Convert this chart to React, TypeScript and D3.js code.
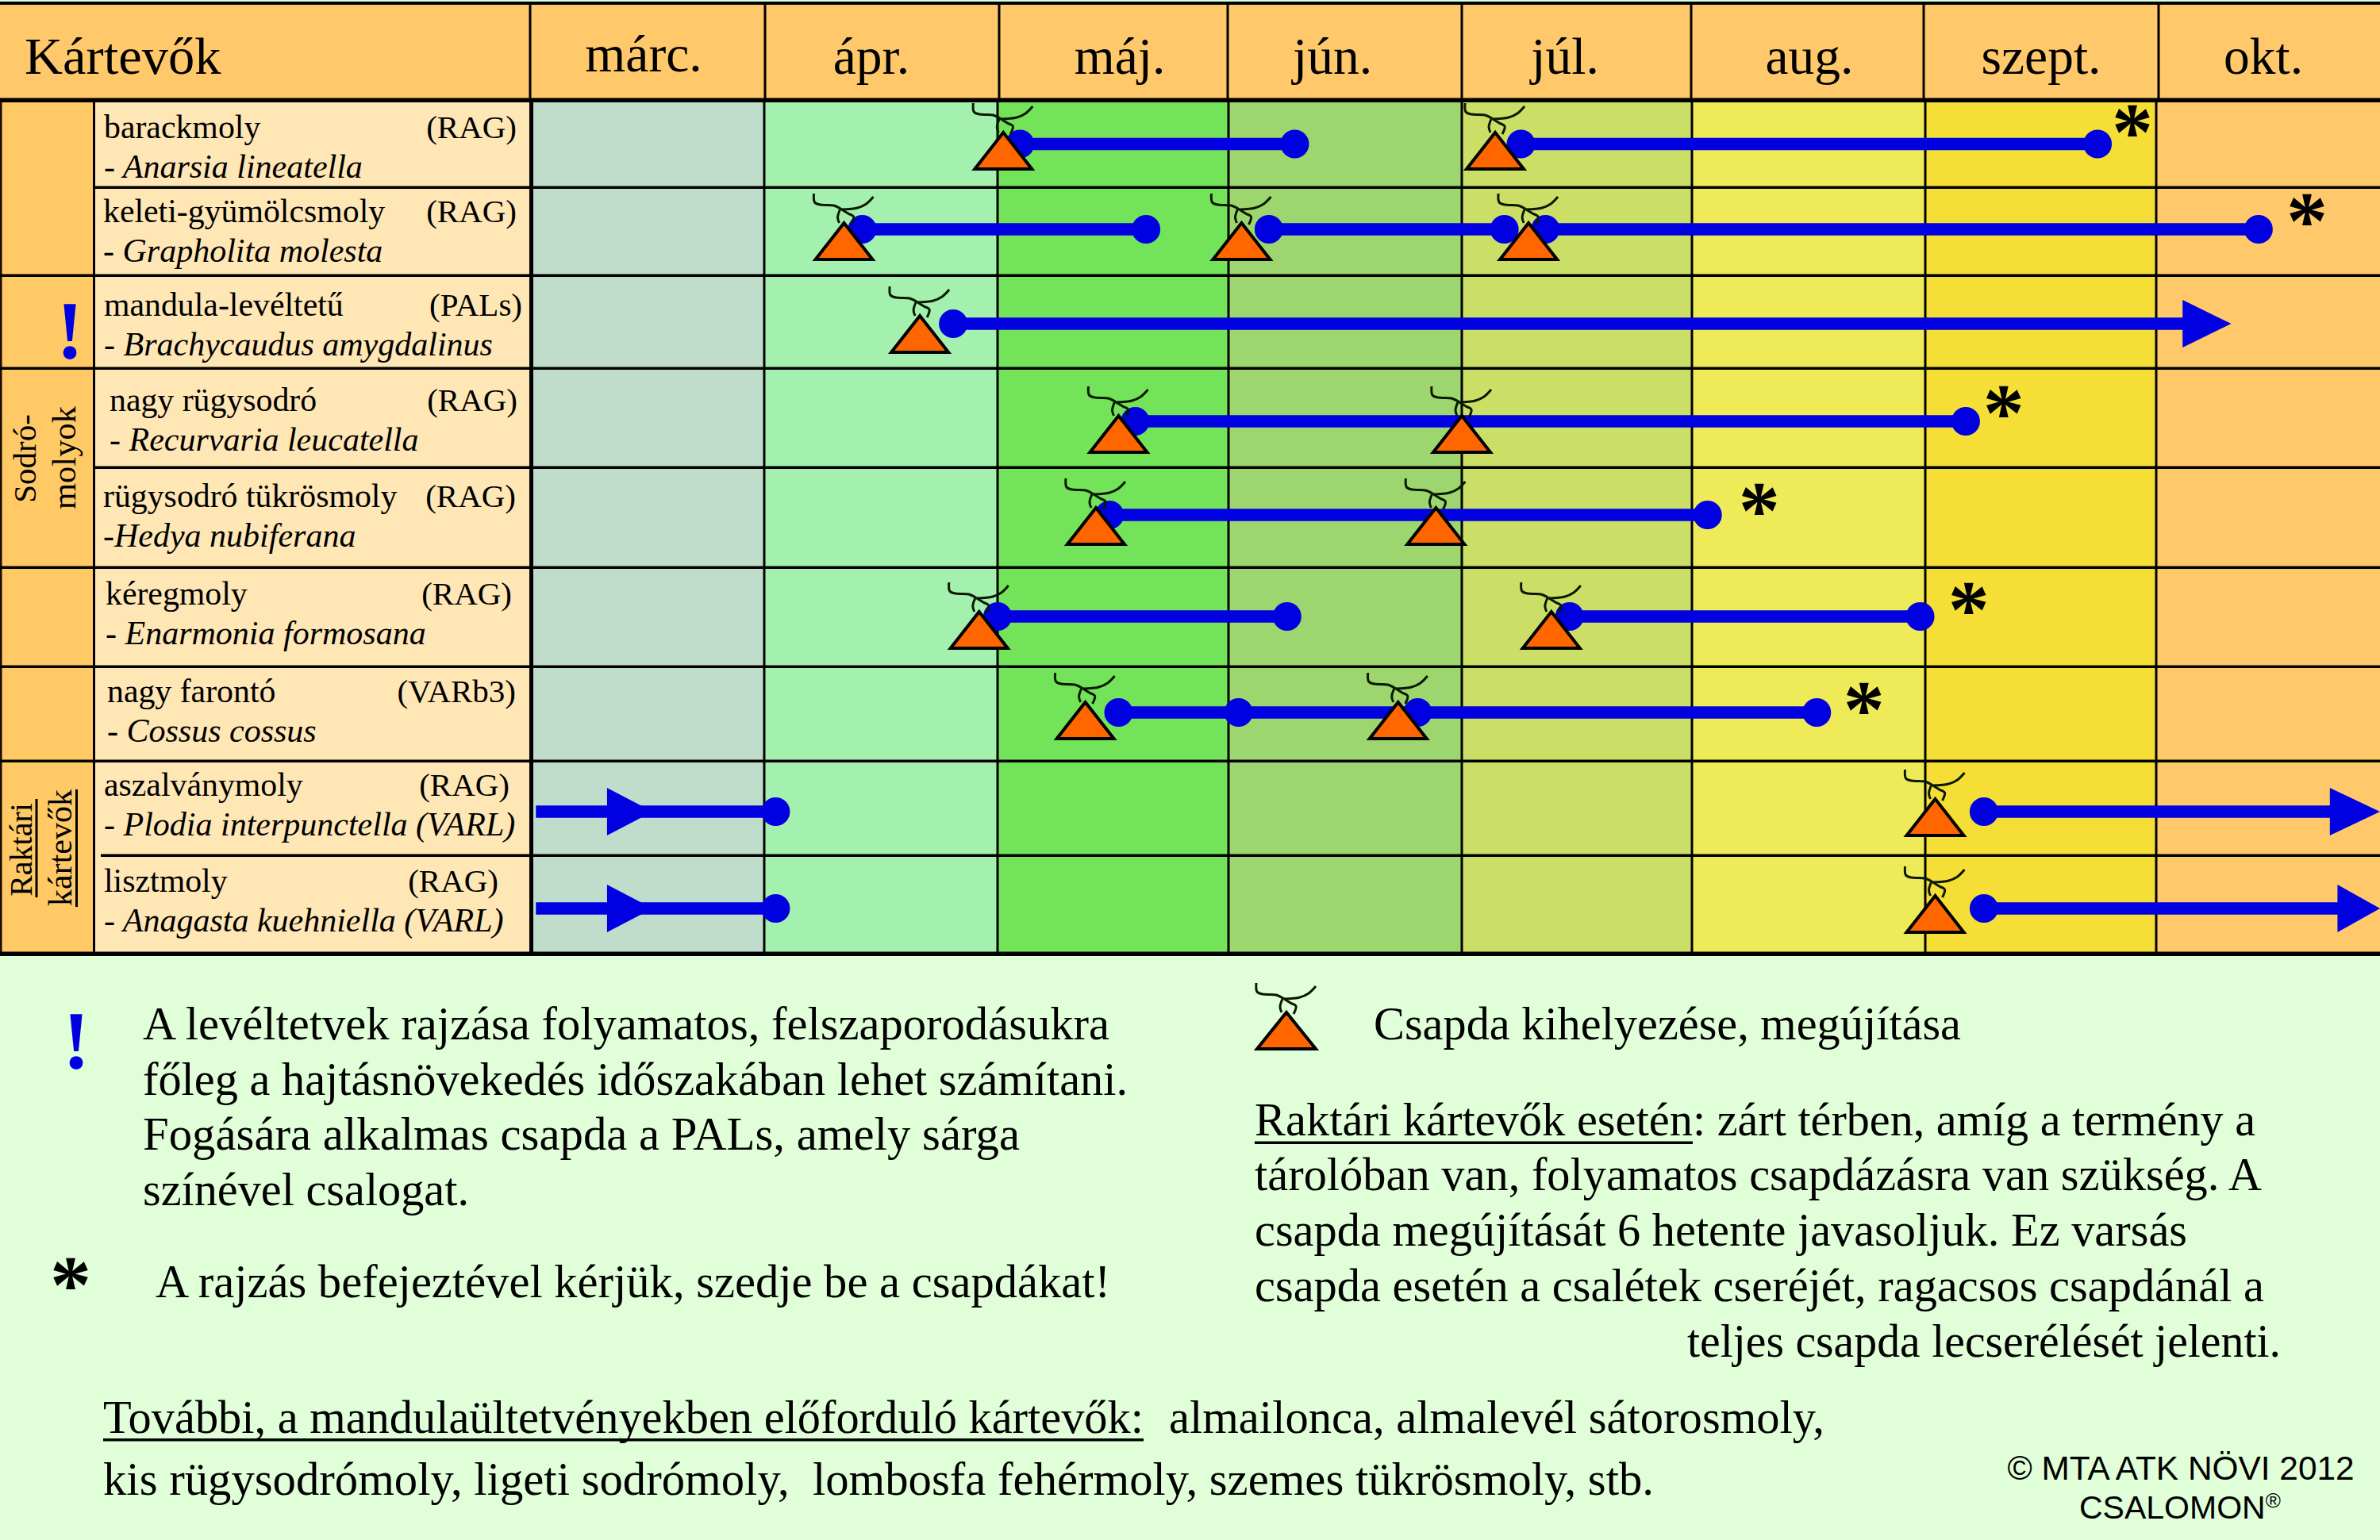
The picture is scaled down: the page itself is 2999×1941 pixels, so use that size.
import React from "react";
import * as d3 from "d3";

// ---------- data ----------
const months = ["márc.", "ápr.", "máj.", "jún.", "júl.", "aug.", "szept.", "okt."];
const pests = ["barackmoly", "keleti-gyümölcsmoly", "mandula-levéltetű", "nagy rügysodró", "rügysodró tükrösmoly", "kéregmoly", "nagy farontó", "aszalványmoly", "lisztmoly"];
const species = ["- Anarsia lineatella", "- Grapholita molesta", "- Brachycaudus amygdalinus", "- Recurvaria leucatella", "-Hedya nubiferana", "- Enarmonia formosana", "- Cossus cossus", "- Plodia interpunctella (VARL)", "- Anagasta kuehniella (VARL)"];
const trapTypes = ["(RAG)", "(RAG)", "(PALs)", "(RAG)", "(RAG)", "(RAG)", "(VARb3)", "(RAG)", "(RAG)"];
// trap placement, in months since 1 March
const trapDates = [[2.025, 4.145], [1.342, 3.056, 4.29], [1.667], [2.524, 4.0], [2.426, 3.889], [1.921, 4.389], [2.38, 3.727], [6.043], [6.043]];
// flight periods [start, end]
const flights = [
  [[2.097, 3.284], [4.257, 6.746]],
  [[1.42, 2.643], [3.173, 4.185], [4.363, 7.457]],
  [[1.81, 7.335]],
  [[2.596, 6.175]],
  [[2.485, 5.067]],
  [[2.0, 3.251], [4.468, 5.978]],
  [[2.524, 5.535]],
  [[0.018, 1.049], [6.254, 8.0]],
  [[0.018, 1.049], [6.254, 8.0]],
];
const flightMidDots = [[], [], [], [], [], [], [3.043, 3.811], [], []];
const noStartDot = [[], [], [], [], [], [], [], [0], [0]];
const noEndDot = [[], [], [0], [], [], [], [], [1], [1]];
// arrowheads: [row, base, tip]
const arrowHeads = [[2, 7.118, 7.335], [7, 0.324, 0.52], [7, 7.776, 8.0], [8, 0.324, 0.52], [8, 7.81, 8.0]];
// end-of-flight stars: [row, month]
const stars = [[0, 6.897], [1, 7.674], [3, 6.339], [4, 5.288], [5, 6.188], [6, 5.737]];
const noteLeft = ["A levéltetvek rajzása folyamatos, felszaporodásukra", "főleg a hajtásnövekedés időszakában lehet számítani.", "Fogására alkalmas csapda a PALs, amely sárga", "színével csalogat."];
const noteRight = ["tárolóban van, folyamatos csapdázásra van szükség. A", "csapda megújítását 6 hetente javasoljuk. Ez varsás", "csapda esetén a csalétek cseréjét, ragacsos csapdánál a"];

// ---------- layout ----------
const W = 2999, H = 1941;
const colEdges = [670, 963, 1257, 1548, 1842, 2132, 2426, 2717, 2999];
const headEdges = [668, 964, 1259, 1547, 1842, 2131, 2424, 2720];
const headCenters = [811, 1098, 1411, 1679, 1972, 2280, 2572, 2852];
const headBase = [90, 93, 93, 93, 93, 93, 93, 93];
const colFills = ["#C0DCCB", "#A4F0AE", "#73E35A", "#9DD66E", "#CBDE66", "#EFEA58", "#F5DE35", "#FFC96B"];
const rowEdges = [126, 236, 347, 464, 589, 715, 840, 959, 1078, 1202];
const rowLineStart = [118, 0, 0, 118, 0, 0, 0, 127];
const lineY = [181.5, 289, 408, 531, 649, 777, 898, 1023, 1145];
const trapBaseY = [213, 327, 444, 570, 686, 817, 931, 1053, 1175];
const starY = [153, 265, 0, 507, 630, 755, 881];
const nameX = [131, 130, 131, 138, 130, 133, 135, 131, 131];
const nameBase = [174, 280, 398, 518, 639, 762, 885, 1003, 1124];
const typeRight = [651, 651, 658, 652, 650, 645, 650, 642, 628];
const noteLeftLen = [1218, 1241, 1105, 411];
const noteRightLen = [1269, 1175, 1272];
const BLUE = "#0000E0";
const SERIF = "'Liberation Serif', serif";
const NOTE = 58.3;

const x = d3.scaleLinear().domain(d3.range(9)).range(colEdges);

const curve = d3.line().curve(d3.curveCatmullRom);
const hookLeft = curve([[-38, -37], [-37, -26], [-30, -23], [-13, -22], [-3, -17]]);
const hookRight = curve([[-3, -17], [17, -19], [28, -24], [37, -33]]);
const loop = curve([[-5, -17], [-8, -7], [-6, 0]]);
const loop2 = curve([[-3, -17], [5, -12], [12, -8], [9, 2]]);

function Trap({ cx, base, w = 72, h = 46 }: { cx: number; base: number; w?: number; h?: number }) {
  const apex = base - h;
  return (
    <g>
      <g transform={`translate(${cx},${apex})`} fill="none" stroke="#0a1a00" strokeWidth={3}>
        <path d={hookLeft!} />
        <path d={hookRight!} />
        <path d={loop!} />
        <path d={loop2!} />
      </g>
      <path d={`M${cx},${apex}L${cx + w / 2},${base}L${cx - w / 2},${base}Z`} fill="#FF6600" stroke="#000" strokeWidth={4} strokeLinejoin="miter" />
    </g>
  );
}

const T = (props: any) => <text fontFamily={SERIF} fill="#000" {...props} />;
const N = (props: any) => <T fontSize={NOTE} lengthAdjust="spacingAndGlyphs" {...props} />;

export default function App() {
  return (
    <svg width={W} height={H} viewBox={`0 0 ${W} ${H}`} style={{ position: "absolute", left: 0, top: 0, display: "block" }}>
      <rect width={W} height={H} fill="#E0FFD8" />
      {/* header */}
      <rect x={0} y={3} width={W} height={123} fill="#FFC96B" />
      {/* left columns */}
      <rect x={0} y={126} width={118} height={1076} fill="#FFC966" />
      <rect x={118} y={126} width={552} height={1076} fill="#FFE6B5" />
      {/* months */}
      {months.map((m, i) => (
        <rect key={m} x={colEdges[i]} y={126} width={colEdges[i + 1] - colEdges[i]} height={1076} fill={colFills[i]} />
      ))}
      {/* grid */}
      <rect x={0} y={2} width={W} height={4} fill="#000" />
      {headEdges.map((e) => <rect key={e} x={e - 1.5} y={4} width={3} height={122} fill="#000" />)}
      {colEdges.slice(1, 8).map((e) => <rect key={e} x={e - 1.5} y={126} width={3} height={1076} fill="#000" />)}
      <rect x={667} y={126} width={5} height={1076} fill="#000" />
      <rect x={117} y={126} width={3} height={1076} fill="#000" />
      <rect x={0} y={126} width={2.5} height={1076} fill="#1a0a00" />
      {rowEdges.slice(1, 9).map((e, i) => (
        <rect key={e} x={rowLineStart[i]} y={e - 1.5} width={W - rowLineStart[i]} height={3.5} fill="#000" />
      ))}
      <rect x={0} y={123.5} width={W} height={5.5} fill="#000" />
      <rect x={0} y={1199.5} width={W} height={5.5} fill="#000" />

      {/* header text */}
      <T x={31} y={93} fontSize={66.5}>Kártevők</T>
      {months.map((m, i) => <T key={m} x={headCenters[i]} y={headBase[i]} fontSize={65.5} textAnchor="middle">{m}</T>)}

      {/* row labels */}
      {pests.map((p, i) => (
        <g key={p}>
          <T x={nameX[i]} y={nameBase[i]} fontSize={41.8}>{p}</T>
          <T x={nameX[i]} y={nameBase[i] + 50} fontSize={42} fontStyle="italic">{species[i]}</T>
          <T x={typeRight[i]} y={nameBase[i]} fontSize={41} textAnchor="end">{trapTypes[i]}</T>
        </g>
      ))}

      {/* group labels */}
      <T x={88} y={452} fontSize={104} fontWeight="bold" textAnchor="middle" style={{ fill: BLUE }}>!</T>
      <g transform="translate(45,578) rotate(-90)"><T textAnchor="middle" fontSize={41}>Sodró-</T></g>
      <g transform="translate(95,577) rotate(-90)"><T textAnchor="middle" fontSize={42.5}>molyok</T></g>
      <g transform="translate(40,1071) rotate(-90)"><T textAnchor="middle" fontSize={40}>Raktári</T></g>
      <g transform="translate(90,1068.5) rotate(-90)"><T textAnchor="middle" fontSize={42}>kártevők</T></g>
      <rect x={44.5} y={1007} width={3} height={124} fill="#000" />
      <rect x={95} y={995} width={3} height={148} fill="#000" />

      {/* flights */}
      {flights.map((segs, r) => (
        <g key={r}>
          {segs.map(([a, b], j) => {
            const stopsAtHead = noEndDot[r].includes(j);
            const head = arrowHeads.find((h) => h[0] === r && h[1] > a);
            return (
              <g key={j}>
                <line x1={x(a)} x2={stopsAtHead && head ? x(head[1]) + 2 : x(b)} y1={lineY[r]} y2={lineY[r]} stroke={BLUE} strokeWidth={15.5} />
                {!noStartDot[r].includes(j) && <circle cx={x(a)} cy={lineY[r]} r={18} fill={BLUE} />}
                {!stopsAtHead && <circle cx={x(b)} cy={lineY[r]} r={18} fill={BLUE} />}
              </g>
            );
          })}
          {flightMidDots[r].map((m) => <circle key={m} cx={x(m)} cy={lineY[r]} r={18} fill={BLUE} />)}
        </g>
      ))}
      {arrowHeads.map(([r, b, t], i) => (
        <path key={i} d={`M${x(b)},${lineY[r] - 30}L${x(t)},${lineY[r]}L${x(b)},${lineY[r] + 30}Z`} fill={BLUE} />
      ))}

      {/* traps */}
      {trapDates.map((ds, r) => ds.map((d) => <Trap key={`${r}-${d}`} cx={x(d)} base={trapBaseY[r]} />))}

      {/* stars */}
      {stars.map(([r, m]) => (
        <T key={r} x={x(m)} y={starY[r] + 48} fontSize={104} fontWeight="bold" textAnchor="middle">*</T>
      ))}

      {/* notes */}
      <T x={96} y={1347} fontSize={104} fontWeight="bold" textAnchor="middle" style={{ fill: BLUE }}>!</T>
      {noteLeft.map((l, i) => <N key={l} x={180} y={[1310, 1380, 1449, 1519][i]} textLength={noteLeftLen[i]}>{l}</N>)}
      <T x={89} y={1654} fontSize={104} fontWeight="bold" textAnchor="middle">*</T>
      <N x={196} y={1635} textLength={1203}>A rajzás befejeztével kérjük, szedje be a csapdákat!</N>
      <N x={130} y={1806} textLength={1311}>További, a mandulaültetvényekben előforduló kártevők:</N>
      <rect x={130} y={1813} width={1311} height={3.5} fill="#000" />
      <N x={1473} y={1806} textLength={826}>almailonca, almalevél sátorosmoly,</N>
      <N x={130} y={1884} textLength={1954} xmlSpace="preserve">kis rügysodrómoly, ligeti sodrómoly,  lombosfa fehérmoly, szemes tükrösmoly, stb.</N>

      <Trap cx={1621} base={1322} w={74} h={46} />
      <N x={1731} y={1310} textLength={740}>Csapda kihelyezése, megújítása</N>
      <N x={1581} y={1431} textLength={552}>Raktári kártevők esetén</N>
      <rect x={1581} y={1438.5} width={552} height={3.5} fill="#000" />
      <N x={2133} y={1431} textLength={709}>: zárt térben, amíg a termény a</N>
      {noteRight.map((l, i) => <N key={l} x={1581} y={[1500, 1569.5, 1639.5][i]} textLength={noteRightLen[i]}>{l}</N>)}
      <N x={2126} y={1709.5} textLength={748}>teljes csapda lecserélését jelenti.</N>

      <text x={2748} y={1865} fontFamily="'Liberation Sans', sans-serif" fontSize={42.4} textAnchor="middle">© MTA ATK NÖVI 2012</text>
      <text x={2620} y={1914} fontFamily="'Liberation Sans', sans-serif" fontSize={41}>CSALOMON<tspan fontSize={26} dy={-14}>®</tspan></text>
    </svg>
  );
}
